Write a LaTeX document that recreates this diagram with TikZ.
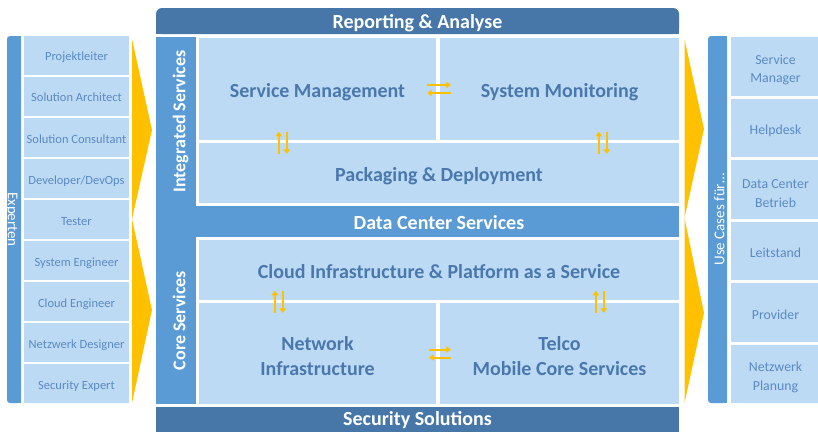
\documentclass[tikz,border=0pt]{standalone}
\usepackage{fontspec}
\setmainfont{Carlito}
\usetikzlibrary{arrows.meta,calc}
\definecolor{dkblue}{HTML}{4677A8}
\definecolor{mdblue}{HTML}{5B9BD5}
\definecolor{ltblue}{HTML}{BDDAF5}
\definecolor{txtblue}{HTML}{4A78AC}
\definecolor{listblue}{HTML}{5A8AC2}
\definecolor{gold}{HTML}{FFC000}
\begin{document}
\begin{tikzpicture}[x=1pt,y=-1pt,
  bigbox/.style={fill=ltblue, inner sep=0pt, align=center, text=txtblue,
    font=\bfseries\fontsize{20}{25}\selectfont},
  oneline/.style={text height=#1, text depth=0pt},
  leftbox/.style={fill=ltblue, inner sep=0pt, minimum width=105, minimum height=38.5,
    text=listblue, font=\fontsize{12.5}{15}\selectfont, oneline=11.3pt},
  rightbox/.style={fill=ltblue, inner sep=0pt, minimum width=89, minimum height=58.5,
    align=center, text=listblue, font=\fontsize{13.8}{18.7}\selectfont},
  barlabel/.style={text=white, inner sep=0pt, font=\bfseries\fontsize{20}{24}\selectfont,
    oneline=12.9pt},
  vbarlabel/.style={text=white, inner sep=0pt, font=\bfseries\fontsize{18}{22}\selectfont,
    oneline=18.6pt},
  sidebarlabel/.style={text=white, inner sep=0pt, font=\fontsize{15}{18}\selectfont},
  conn/.style={gold, line width=2pt, -{Triangle[width=6.5pt,length=4.5pt]}}
]
\clip (0,0) rectangle (818,431);
\fill[white] (0,0) rectangle (818,431);

% ---------- left: Experten ----------
\fill[mdblue, rounded corners=3] (7,36) rectangle (21,403);
\fill[mdblue] (14,36) rectangle (21,403);
\node[sidebarlabel, rotate=-90, oneline=12pt] (exp) at (14,219.5) {Experten};

\node[leftbox] (l1) at (76.5,55.25) {Projektleiter};
\node[leftbox] (l2) at (76.5,96.3) {Solution Architect};
\node[leftbox] (l3) at (76.5,137.4) {Solution Consultant};
\node[leftbox] (l4) at (76.5,178.4) {Developer/DevOps};
\node[leftbox] (l5) at (76.5,219.5) {Tester};
\node[leftbox] (l6) at (76.5,260.5) {System Engineer};
\node[leftbox] (l7) at (76.5,301.6) {Cloud Engineer};
\node[leftbox] (l8) at (76.5,342.7) {Netzwerk Designer};
\node[leftbox] (l9) at (76.5,383.7) {Security Expert};

% left chevrons
\fill[gold] (132,39) -- (152,130) -- (132,219) -- (152,310) -- (132,403) -- cycle;

% ---------- centre ----------
\fill[dkblue, rounded corners=6] (156,8) rectangle (679,34);
\fill[dkblue] (156,20) rectangle (679,34);
\node[barlabel] (rep) at (417.5,22.5) {Reporting \& Analyse};

\node[fill=mdblue, inner sep=0pt, minimum width=169, minimum height=40, rotate=90,
  vbarlabel] (intbar) at (176,121.5) {Integrated Services};
\node[fill=mdblue, inner sep=0pt, minimum width=523, minimum height=31] (dcbar) at (417.5,221.5) {};
\node[barlabel] (dctext) at (439,223.5) {Data Center Services};
\node[fill=mdblue, inner sep=0pt, minimum width=167, minimum height=40, rotate=90,
  vbarlabel] (corebar) at (176,320.5) {Core Services};

\node[bigbox, oneline=16.3pt, minimum width=237, minimum height=102] (sm) at (317.5,89) {Service Management};
\node[bigbox, oneline=16.3pt, minimum width=239, minimum height=102] (mon) at (559.5,89) {System Monitoring};
\node[bigbox, oneline=16.3pt, minimum width=480, minimum height=60] (pkg) at (439,173) {Packaging \& Deployment};
\node[bigbox, oneline=16.3pt, minimum width=480, minimum height=60] (cloud) at (439,270) {Cloud Infrastructure \& Platform as a Service};
\node[bigbox, minimum width=237, minimum height=101] (net) at (317.5,353.5) {\rule{0pt}{20pt}Network\\Infrastructure};
\node[bigbox, minimum width=239, minimum height=101] (telco) at (559.5,353.5) {\rule{0pt}{20pt}Telco\\Mobile Core Services};

\node[fill=dkblue, inner sep=0pt, minimum width=523, minimum height=28] (secbar) at (417.5,421) {};
\node[barlabel] (sectext) at (417.5,419.5) {Security Solutions};

% small exchange arrows
\coordinate (a1) at ($(sm.east)+(-9,-4)$);
\coordinate (a2) at ($(mon.west)+(11,-4)$);
\coordinate (a3) at ($(sm.east)+(-9,4)$);
\coordinate (a4) at ($(mon.west)+(11,4)$);
\draw[conn] (a1) -- (a2);
\draw[conn] (a4) -- (a3);

\coordinate (b1) at ($(pkg.north west)+(80,11)$);
\coordinate (b2) at ($(pkg.north west)+(80,-11)$);
\coordinate (b3) at ($(pkg.north west)+(88,-11)$);
\coordinate (b4) at ($(pkg.north west)+(88,11)$);
\draw[conn] (b1) -- (b2);
\draw[conn] (b3) -- (b4);
\coordinate (c1) at ($(pkg.north west)+(400,11)$);
\coordinate (c2) at ($(pkg.north west)+(400,-11)$);
\coordinate (c3) at ($(pkg.north west)+(408,-11)$);
\coordinate (c4) at ($(pkg.north west)+(408,11)$);
\draw[conn] (c1) -- (c2);
\draw[conn] (c3) -- (c4);

\coordinate (d1) at ($(net.north west)+(76,10)$);
\coordinate (d2) at ($(net.north west)+(76,-12)$);
\coordinate (d3) at ($(net.north west)+(84,-12)$);
\coordinate (d4) at ($(net.north west)+(84,10)$);
\draw[conn] (d1) -- (d2);
\draw[conn] (d3) -- (d4);
\coordinate (e1) at ($(telco.north west)+(156,10)$);
\coordinate (e2) at ($(telco.north west)+(156,-12)$);
\coordinate (e3) at ($(telco.north west)+(164,-12)$);
\coordinate (e4) at ($(telco.north west)+(164,10)$);
\draw[conn] (e1) -- (e2);
\draw[conn] (e3) -- (e4);

\coordinate (f1) at ($(net.east)+(-7,-4)$);
\coordinate (f2) at ($(telco.west)+(11,-4)$);
\coordinate (f3) at ($(net.east)+(-7,4)$);
\coordinate (f4) at ($(telco.west)+(11,4)$);
\draw[conn] (f1) -- (f2);
\draw[conn] (f4) -- (f3);

% right chevrons
\fill[gold] (684.5,39) -- (704,129) -- (684.5,218) -- (704,313) -- (684.5,403) -- cycle;

% ---------- right: Use Cases ----------
\fill[mdblue, rounded corners=3] (708,36) rectangle (727,403);
\fill[mdblue] (718,36) rectangle (727,403);
\node[sidebarlabel, rotate=90, oneline=13.7pt] (uc) at (717.5,219.5) {Use Cases für\dots};

\node[rightbox] (r1) at (775.5,66.25) {\rule{0pt}{17pt}Service\\Manager};
\node[rightbox, oneline=13.9pt] (r2) at (775.5,127.75) {Helpdesk};
\node[rightbox] (r3) at (775.5,189.25) {\rule{0pt}{17pt}Data Center\\Betrieb};
\node[rightbox, oneline=13.9pt] (r4) at (775.5,250.75) {Leitstand};
\node[rightbox, oneline=13.9pt] (r5) at (775.5,312.25) {Provider};
\node[rightbox] (r6) at (775.5,373.75) {\rule{0pt}{17pt}Netzwerk\\Planung};
\end{tikzpicture}
\end{document}
